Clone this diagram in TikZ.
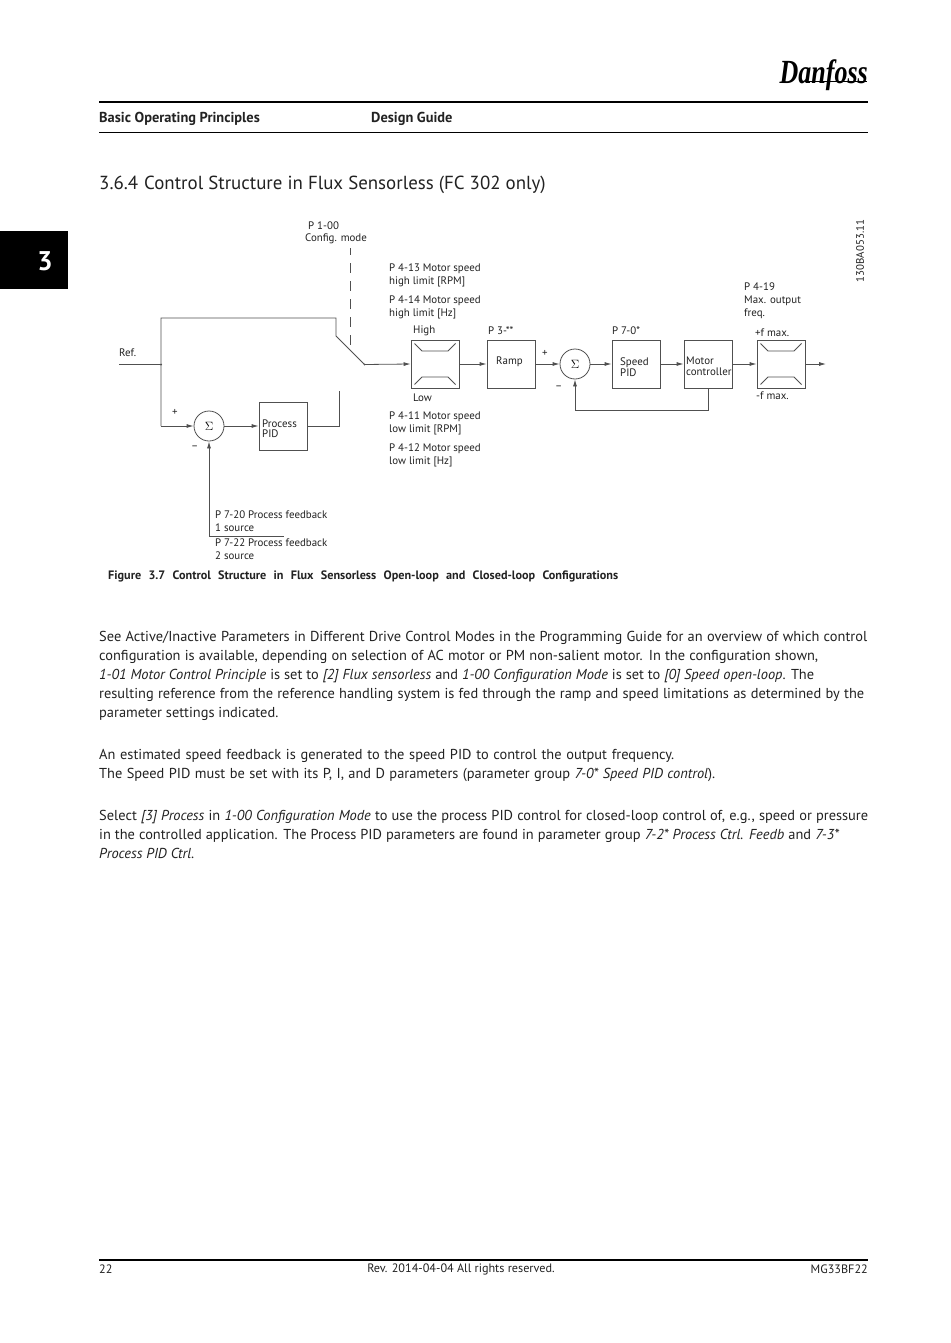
\documentclass[tikz,border=0pt]{standalone}
\usepackage{fontspec}
\usepackage{tikz}
\usetikzlibrary{arrows.meta}
\setmainfont{PT Sans}
\newfontfamily\logofont{Liberation Serif}
\newcommand{\labelfont}{\fontsize{10.9}{13}\selectfont}
\newcommand{\bodyfont}{\fontsize{14.4}{19}\selectfont}
\tikzset{
  blockbox/.style={draw=linegray, line width=0.8pt, minimum size=48pt, inner sep=0pt},
  sumcircle/.style={draw=linegray, line width=0.8pt, circle, minimum size=30pt, inner sep=0pt, font=\fontsize{12.5}{13}\selectfont},
  lab/.style={anchor=west, align=left, inner sep=0pt, yshift=-1.5pt, font=\labelfont, text=textgray},
  bodyline/.style={anchor=base west, inner sep=0pt, yshift=-5pt, font=\bodyfont, text=textgray},
  sig/.style={draw=linegray, line width=0.8pt},
  sigarrow/.style={sig, -{Latex[length=7pt,width=4pt]}},
  rulerline/.style={draw=black, line width=1.2pt},
}
\definecolor{linegray}{HTML}{505050}
\definecolor{textgray}{HTML}{222222}
\begin{document}
\begin{tikzpicture}[x=1pt,y=-1pt]
\useasboundingbox (0,0) rectangle (950,1343);
\fill[white] (0,0) rectangle (950,1343);
\fill[black] (0,231) rectangle (68,289);
\node[inner sep=0pt, text=white, font=\fontsize{27}{27}\selectfont\bfseries] (chapter) at (45,261) {3};

\node[inner sep=0pt, anchor=east, font=\fontsize{26}{26}\selectfont\logofont\bfseries\itshape] (logo) at (868,75) {\scalebox{1}[1.3]{Danfoss}};
\coordinate (logoa) at (805,82);
\coordinate (logob) at (867,82);
\draw[line width=1pt] (logoa) -- (logob);
\coordinate (hruleaw) at (99,102);
\coordinate (hruleae) at (868,102);
\coordinate (hrulebw) at (99,133);
\coordinate (hrulebe) at (868,133);
\draw[rulerline] (hruleaw) -- (hruleae);
\draw[rulerline, line width=1pt] (hrulebw) -- (hrulebe);
\node[bodyline, font=\fontsize{14.4}{16}\selectfont\bfseries] (headleft) at (99,118) {Basic Operating Principles};
\node[bodyline, font=\fontsize{14.4}{16}\selectfont\bfseries] (headmid) at (371,118) {Design Guide};
\node[bodyline, font=\fontsize{18.9}{22}\selectfont] (title) at (99,184.5) {3.6.4\hspace{6pt}Control Structure in Flux Sensorless (FC 302 only)};

\node[blockbox] (limhigh) at (435,364) {};
\node[blockbox] (ramp) at (511,364) {};
\node[sumcircle] (sumspeed) at (575,364) {$\Sigma$};
\node[blockbox] (speedpid) at (636,364) {};
\node[blockbox] (motor) at (708,364) {};
\node[blockbox] (limout) at (781,364) {};
\node[sumcircle] (sumproc) at (209,426) {$\Sigma$};
\node[blockbox] (procpid) at (283,426) {};

\foreach \limiter in {limhigh,limout} {
  \draw[sig, shift={(\limiter.center)}] (-20.5,-20.5) -- (-13,-13) -- (13,-13) -- (20.5,-20.5);
  \draw[sig, shift={(\limiter.center)}] (-20.5,20.5) -- (-13,13) -- (13,13) -- (20.5,20.5);
}

\coordinate (refstart) at (119,364.5);
\coordinate (refdot) at (161,364.5);
\coordinate (topleft) at (161,318);
\coordinate (topright) at (336,318);
\coordinate (swupper) at (336,336);
\coordinate (swdot) at (364.5,364.5);
\coordinate (botleft) at (161,426);
\coordinate (procturn) at (339,426);
\coordinate (procend) at (339,391);
\coordinate (dashtop) at (350.5,248);
\coordinate (dashbot) at (350.5,350);
\coordinate (fbcorner) at (209,536);
\coordinate (fbend) at (284,536);
\coordinate (motordown) at (708,410);
\coordinate (sumdown) at (575,410);
\coordinate (outend) at (826,364);

\draw[sig] (refstart) -- (refdot);
\draw[sig] (botleft) -- (topleft) -- (topright) -- (swupper) -- (swdot);
\fill[linegray] (refdot) circle (1);
\fill[linegray] (swdot) circle (1);
\draw[sig, dash pattern=on 10pt off 8pt, dash phase=3pt] (dashtop) -- (dashbot);
\draw[sigarrow] (swdot) -- (limhigh.west);
\draw[sigarrow] (limhigh.east) -- (ramp.west);
\draw[sigarrow] (ramp.east) -- (sumspeed.west);
\draw[sigarrow] (sumspeed.east) -- (speedpid.west);
\draw[sigarrow] (speedpid.east) -- (motor.west);
\draw[sigarrow] (motor.east) -- (limout.west);
\draw[sigarrow] (limout.east) -- (outend);
\draw[sigarrow] (motor.south) -- (motordown) -- (sumdown) -- (sumspeed.south);
\draw[sigarrow] (botleft) -- (sumproc.west);
\draw[sigarrow] (sumproc.east) -- (procpid.west);
\draw[sig] (procpid.east) -- (procturn) -- (procend);
\draw[sigarrow] (fbend) -- (fbcorner) -- (sumproc.south);

\node[lab] (pconfig) at (305,231) {\hspace{3pt}P 1-00\\[-1pt]Config. mode};
\node[lab] (lref) at (119,351) {Ref.};
\node[lab] (phigh) at (389,274) {P 4-13 Motor speed\\high limit [RPM]};
\node[lab] (phighhz) at (389,306) {P 4-14 Motor speed\\high limit [Hz]};
\node[lab] (lhigh) at (413,329) {High};
\node[lab] (llow) at (413,396) {Low};
\node[lab] (plow) at (389,422) {P 4-11 Motor speed\\low limit [RPM]};
\node[lab] (plowhz) at (389,454) {P 4-12 Motor speed\\low limit [Hz]};
\node[lab] (pramp) at (488,329.5) {P 3-**};
\node[lab] (lramp) at (496,360) {Ramp};
\node[lab] (pspeed) at (612,329.5) {P 7-0*};
\node[lab] (lspeed) at (620,366) {Speed\\[-2pt]PID};
\node[lab] (lmotor) at (686,365) {Motor\\[-2pt]controller};
\node[lab] (pmax) at (744,299) {P 4-19\\Max. output\\freq.};
\node[lab] (lfmax) at (755,331) {+f max.};
\node[lab] (lfmin) at (756,394) {-f max.};
\node[lab] (lplusa) at (542,351.5) {+};
\node[lab] (lminusa) at (555,386) {--};
\node[lab] (lplusb) at (172,410.5) {+};
\node[lab] (lminusb) at (191,446.5) {--};
\node[lab] (lproc) at (262,427.5) {Process\\[-3pt]PID};
\node[lab] (pfba) at (215,519.5) {P 7-20 Process feedback\\1 source};
\node[lab] (pfbb) at (215,547.5) {P 7-22 Process feedback\\2 source};
\node[lab, rotate=90, anchor=west] (figid) at (860,281) {130BA053.11};
\node[lab, font=\fontsize{12.2}{13}\selectfont\bfseries] (caption) at (108,575) {\makebox[510pt][s]{Figure 3.7 Control Structure in Flux Sensorless Open-loop and Closed-loop Configurations}};

\node[bodyline] (para1a) at (99,636) {\makebox[768pt][s]{See Active/Inactive Parameters in Different Drive Control Modes in the Programming Guide for an overview of which control}};
\node[bodyline] (para1b) at (99,655) {\makebox[719pt][s]{configuration is available, depending on selection of AC motor or PM non-salient motor. In the configuration shown,}};
\node[bodyline] (para1c) at (99,674) {\makebox[715pt][s]{\textit{1-01 Motor Control Principle} is set to \textit{[2] Flux sensorless} and \textit{1-00 Configuration Mode} is set to \textit{[0] Speed open-loop}. The}};
\node[bodyline] (para1d) at (99,693) {\makebox[765pt][s]{resulting reference from the reference handling system is fed through the ramp and speed limitations as determined by the}};
\node[bodyline] (para1e) at (99,712.5) {parameter settings indicated.};
\node[bodyline] (para2a) at (99,754) {\makebox[575pt][s]{An estimated speed feedback is generated to the speed PID to control the output frequency.}};
\node[bodyline] (para2b) at (99,773) {\makebox[616pt][s]{The Speed PID must be set with its P, I, and D parameters (parameter group \textit{7-0* Speed PID control}).}};
\node[bodyline] (para3a) at (99,815) {\makebox[769pt][s]{Select \textit{[3] Process} in \textit{1-00 Configuration Mode} to use the process PID control for closed-loop control of, e.g., speed or pressure}};
\node[bodyline] (para3b) at (99,834) {\makebox[740pt][s]{in the controlled application. The Process PID parameters are found in parameter group \textit{7-2* Process Ctrl. Feedb} and \textit{7-3*}}};
\node[bodyline] (para3c) at (99,853) {\textit{Process PID Ctrl}.};

\coordinate (footw) at (99,1260);
\coordinate (foote) at (868,1260);
\draw[rulerline] (footw) -- (foote);
\node[lab, font=\fontsize{12.2}{14}\selectfont] (pagenum) at (99,1268) {22};
\node[lab, anchor=center, font=\fontsize{12.2}{14}\selectfont] (revision) at (461,1268) {Rev. 2014-04-04 All rights reserved.};
\node[lab, anchor=east, font=\fontsize{12.2}{14}\selectfont] (docnum) at (868,1268) {MG33BF22};
\end{tikzpicture}
\end{document}
